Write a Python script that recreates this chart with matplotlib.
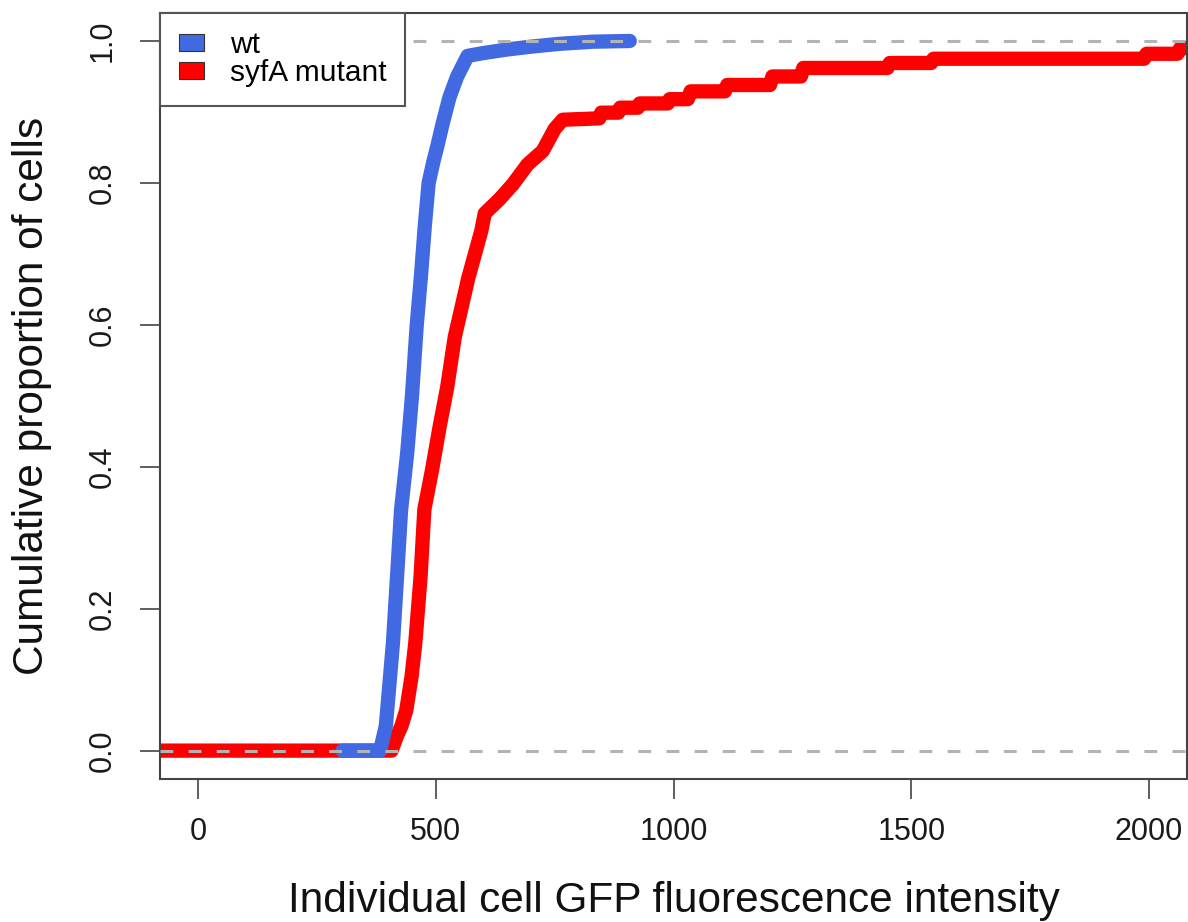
import matplotlib
matplotlib.use("Agg")
import matplotlib.pyplot as plt
from matplotlib.patches import Patch

plt.rcParams['font.family'] = ['Liberation Sans', 'DejaVu Sans']

# ---- data (ECDF outlines) ----
wt_x = [304, 383, 395, 410, 419, 427, 440, 450, 460, 469, 477, 485, 495, 503,
        515, 529, 545, 567, 600, 650, 700, 760, 830, 908]
wt_y = [0, 0, 0.035, 0.152, 0.25, 0.339, 0.42, 0.50, 0.60, 0.67, 0.74, 0.80, 0.83,
        0.851, 0.885, 0.921, 0.95, 0.979, 0.983, 0.988, 0.992, 0.996, 0.999, 1.0]

mut_x = [-200, 407, 418, 428, 438, 449, 457, 468, 476, 492, 508, 524, 540, 564, 568,
         596, 603, 634, 662, 693, 725, 750, 767, 844, 848, 884, 888, 925, 929, 988,
         992, 1030, 1036, 1108, 1113, 1203, 1208, 1268, 1273, 1450, 1455, 1542, 1547,
         1990, 1995, 2060, 2066, 2300]
mut_y = [0, 0, 0.02, 0.035, 0.057, 0.104, 0.152, 0.245, 0.34, 0.395, 0.456, 0.512,
         0.583, 0.653, 0.665, 0.733, 0.757, 0.777, 0.798, 0.826, 0.845, 0.876, 0.889,
         0.891, 0.899, 0.899, 0.906, 0.906, 0.912, 0.912, 0.918, 0.918, 0.929, 0.929,
         0.938, 0.938, 0.950, 0.950, 0.962, 0.962, 0.969, 0.969, 0.975, 0.975, 0.982,
         0.982, 0.99, 0.99]

x_ticks = [0, 500, 1000, 1500, 2000]
y_ticks = [0.0, 0.2, 0.4, 0.6, 0.8, 1.0]
y_ticklabels = ["0.0", "0.2", "0.4", "0.6", "0.8", "1.0"]
ref_levels = [0, 1]
series_labels = ["wt", "syfA mutant"]
series_colors = ["#4169E1", "#FF0000"]

W, H = 1188, 922
fig = plt.figure(figsize=(W / 100, H / 100), dpi=100)
ax = fig.add_axes([160 / W, 1 - 779 / H, (1187 - 160) / W, (779 - 12.6) / H])

ax.plot(mut_x, mut_y, color=series_colors[1], lw=10.3, solid_capstyle='round',
        solid_joinstyle='round', zorder=2)
ax.plot(wt_x, wt_y, color=series_colors[0], lw=10.3, solid_capstyle='round',
        solid_joinstyle='round', zorder=3)
for lv in ref_levels:
    ax.axhline(lv, color='#b3b3b3', lw=2.2, ls=(0, (4.2, 5.0)), zorder=4)

ax.set_xlim(-80, 2080)
ax.set_ylim(-0.04, 1.04)
ax.set_xticks(x_ticks)
ax.set_xticklabels([str(t) for t in x_ticks])
ax.set_yticks(y_ticks)
ax.set_yticklabels(y_ticklabels, rotation=90, va='center')

for s in ax.spines.values():
    s.set_color('#444444')
    s.set_linewidth(1.5)
ax.tick_params(axis='both', direction='out', length=14.4, width=1.2,
               color='#444444', labelsize=22, labelcolor='#1a1a1a')
ax.tick_params(axis='x', pad=13)
ax.tick_params(axis='y', pad=16)

fig.text(674 / W, 1 - 912 / H, "Individual cell GFP fluorescence intensity",
         ha='center', va='baseline', fontsize=30.5, color='#111111')
fig.text(32 / W, 1 - 396 / H, "Cumulative proportion of cells",
         ha='center', va='center', rotation=90, fontsize=30.5, color='#111111')

handles = [Patch(facecolor=c, edgecolor='#333333', lw=0.8) for c in series_colors]
leg = ax.legend(handles, series_labels, loc='upper left', bbox_to_anchor=(0, 1),
                borderaxespad=0, fontsize=21.5, frameon=True, fancybox=False,
                edgecolor='#555555', framealpha=1, handlelength=0.86,
                handleheight=0.52, handletextpad=0.86, labelspacing=0.0,
                borderpad=0.62)
leg.get_frame().set_linewidth(1.5)
leg.set_zorder(5)

fig.savefig("out.png", dpi=100)
